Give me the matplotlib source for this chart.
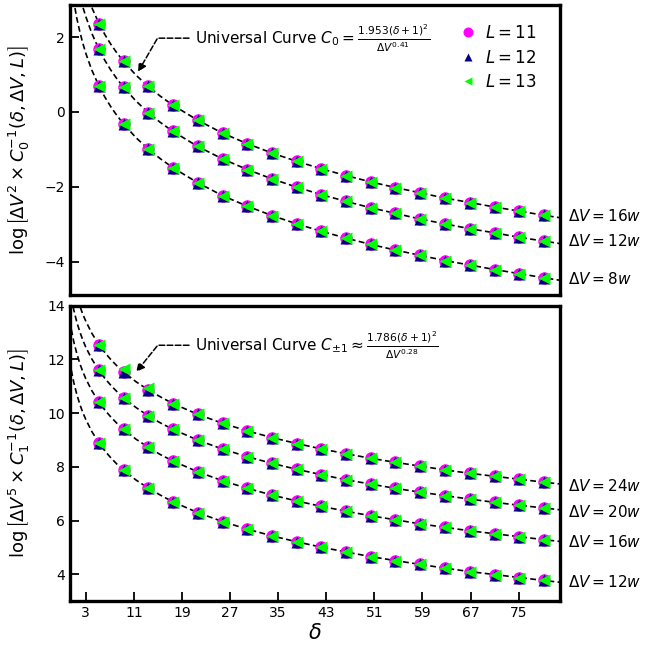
import numpy as np
import matplotlib
matplotlib.use("Agg")
import matplotlib.pyplot as plt

plt.rcParams['figure.facecolor'] = 'w'
plt.rcParams['mathtext.fontset'] = 'dejavusans'

# marker positions (delta)
delta = [5.2, 9.3, 13.4, 17.5, 21.6, 25.8, 29.9, 34.0, 38.1, 42.2,
         46.3, 50.4, 54.5, 58.6, 62.7, 66.9, 71.0, 75.1, 79.2]

# top panel, log[dV^2 C0^-1]
top_dv16 = [2.36, 1.35, 0.68, 0.18, -0.22, -0.57, -0.85, -1.10, -1.32, -1.52,
            -1.70, -1.87, -2.02, -2.16, -2.30, -2.42, -2.54, -2.65, -2.76]
top_dv12 = [1.67, 0.66, -0.02, -0.52, -0.92, -1.26, -1.54, -1.79, -2.01, -2.21,
            -2.39, -2.56, -2.71, -2.86, -2.99, -3.12, -3.23, -3.35, -3.45]
top_dv8 = [0.69, -0.32, -0.99, -1.49, -1.89, -2.24, -2.52, -2.77, -2.99, -3.19,
           -3.37, -3.54, -3.69, -3.83, -3.97, -4.09, -4.21, -4.32, -4.43]

# bottom panel, log[dV^5 C1^-1]
bot_dv24 = [12.55, 11.54, 10.87, 10.36, 9.96, 9.62, 9.34, 9.09, 8.87, 8.67,
            8.49, 8.32, 8.17, 8.03, 7.89, 7.76, 7.65, 7.54, 7.43]
bot_dv24_l13 = [12.55, 11.66, 10.93, 10.36, 9.96, 9.62, 9.34, 9.09, 8.87, 8.67,
                8.49, 8.32, 8.17, 8.03, 7.89, 7.76, 7.65, 7.54, 7.43]
bot_dv20 = [11.59, 10.57, 9.90, 9.40, 9.00, 8.66, 8.38, 8.13, 7.91, 7.71,
            7.52, 7.36, 7.20, 7.06, 6.93, 6.80, 6.68, 6.57, 6.47]
bot_dv16 = [10.41, 9.40, 8.73, 8.22, 7.82, 7.48, 7.20, 6.95, 6.73, 6.53,
            6.35, 6.18, 6.03, 5.88, 5.75, 5.62, 5.51, 5.40, 5.29]
bot_dv12 = [8.89, 7.88, 7.21, 6.70, 6.30, 5.96, 5.68, 5.43, 5.21, 5.01,
            4.83, 4.66, 4.51, 4.37, 4.23, 4.10, 3.99, 3.88, 3.77]

# extra points of the dashed universal curves (outside / between markers)
fit_delta = [0.6, 1.0, 1.5, 2.0, 2.5, 3.0, 4.0, 6.2, 7.2, 8.2, 11.3, 15.4, 82.0]
fit_top16 = [5.07, 4.63, 4.18, 3.82, 3.51, 3.24, 2.79, 2.06, 1.80, 1.57, 0.99, 0.42, -2.83]
fit_top12 = [4.38, 3.93, 3.49, 3.12, 2.81, 2.55, 2.10, 1.37, 1.11, 0.88, 0.30, -0.28, -3.52]
fit_top8 = [3.40, 2.96, 2.51, 2.15, 1.84, 1.57, 1.12, 0.39, 0.13, -0.10, -0.68, -1.25, -4.50]
fit_bot24 = [15.26, 14.81, 14.37, 14.00, 13.69, 13.43, 12.98, 12.25, 11.99, 11.76, 11.18, 10.61, 7.36]
fit_bot20 = [14.30, 13.85, 13.40, 13.04, 12.73, 12.46, 12.02, 11.29, 11.03, 10.80, 10.22, 9.64, 6.40]
fit_bot16 = [13.12, 12.67, 12.23, 11.86, 11.55, 11.29, 10.84, 10.11, 9.85, 9.62, 9.04, 8.46, 5.22]
fit_bot12 = [11.60, 11.15, 10.71, 10.34, 10.03, 9.77, 9.32, 8.59, 8.33, 8.10, 7.52, 6.95, 3.70]

top_labels = [r'$\Delta V = 16w$', r'$\Delta V = 12w$', r'$\Delta V = 8w$']
top_label_y = [-2.79, -3.46, -4.45]
bot_labels = [r'$\Delta V = 24w$', r'$\Delta V = 20w$', r'$\Delta V = 16w$', r'$\Delta V = 12w$']
bot_label_y = [7.30, 6.33, 5.21, 3.71]
xticks = [3, 11, 19, 27, 35, 43, 51, 59, 67, 75]


def curve(ax, ym, yf):
    x = np.array(delta + fit_delta)
    y = np.array(ym + yf)
    o = np.argsort(x)
    ax.plot(x[o], y[o], '--', color='k', lw=1.2, dashes=(3.5, 2), zorder=1)


def points(ax, y11, y12, y13, lab=False):
    ax.plot(delta, y11, 'o', color='magenta', ms=9, mec='none', zorder=2,
            label=r'$L = 11$' if lab else None)
    ax.plot(delta, y12, '^', color='navy', ms=8, mec='none', zorder=3,
            label=r'$L = 12$' if lab else None)
    ax.plot(delta, y13, '<', color='lime', ms=8, mec='none', zorder=4,
            label=r'$L = 13$' if lab else None)


def style(ax):
    for s in ax.spines.values():
        s.set_linewidth(2.4)
    ax.tick_params(direction='in', length=6.5, width=1.3, labelsize=10)
    ax.set_xlim(0.34, 81.9)
    ax.yaxis.set_label_coords(-0.078, 0.5)


fig = plt.figure(figsize=(6.46, 6.52), dpi=100)
ax1 = fig.add_axes([0.108, 0.547, 0.759, 0.445])
ax2 = fig.add_axes([0.108, 0.078, 0.759, 0.453])

# top panel
for ym, yf in [(top_dv16, fit_top16), (top_dv12, fit_top12), (top_dv8, fit_top8)]:
    curve(ax1, ym, yf)
points(ax1, top_dv16, top_dv16, top_dv16, lab=True)
points(ax1, top_dv12, top_dv12, top_dv12)
points(ax1, top_dv8, top_dv8, top_dv8)
style(ax1)
ax1.set_ylim(-4.9, 2.85)
ax1.set_yticks([-4, -2, 0, 2])
ax1.set_xticks([])
ax1.set_ylabel(r'$\log\left[\Delta V^2\times C_0^{-1}(\delta,\Delta V,L)\right]$', fontsize=13)
for t, yy in zip(top_labels, top_label_y):
    ax1.text(83.2, yy, t, fontsize=11, va='center', ha='left', clip_on=False)
ax1.annotate(r'Universal Curve $C_0=\frac{1.953(\delta+1)^2}{\Delta V^{0.41}}$',
             xy=(11.7, 1.07), xytext=(21.1, 1.97), fontsize=11, va='center',
             arrowprops=dict(arrowstyle='-|>', color='k', ls='--', lw=1.1,
                             connectionstyle='angle,angleA=0,angleB=60,rad=0',
                             shrinkA=2, shrinkB=0, mutation_scale=12))
leg = ax1.legend(loc='upper right', bbox_to_anchor=(0.982, 0.986), frameon=False,
                 fontsize=12, markerscale=0.8, handlelength=1.0,
                 handletextpad=0.5, labelspacing=0.38)

# bottom panel
for ym, yf in [(bot_dv24, fit_bot24), (bot_dv20, fit_bot20),
               (bot_dv16, fit_bot16), (bot_dv12, fit_bot12)]:
    curve(ax2, ym, yf)
points(ax2, bot_dv24, bot_dv24, bot_dv24_l13)
points(ax2, bot_dv20, bot_dv20, bot_dv20)
points(ax2, bot_dv16, bot_dv16, bot_dv16)
points(ax2, bot_dv12, bot_dv12, bot_dv12)
style(ax2)
ax2.set_ylim(3, 14)
ax2.set_yticks([4, 6, 8, 10, 12, 14])
ax2.set_xticks(xticks)
ax2.set_xlabel(r'$\delta$', fontsize=15, labelpad=2)
ax2.set_ylabel(r'$\log\left[\Delta V^5\times C_1^{-1}(\delta,\Delta V,L)\right]$', fontsize=13)
for t, yy in zip(bot_labels, bot_label_y):
    ax2.text(83.2, yy, t, fontsize=11, va='center', ha='left', clip_on=False)
ax2.annotate(r'Universal Curve $C_{\pm1}\approx\frac{1.786(\delta+1)^2}{\Delta V^{0.28}}$',
             xy=(11.4, 11.54), xytext=(21.1, 12.53), fontsize=11, va='center',
             arrowprops=dict(arrowstyle='-|>', color='k', ls='--', lw=1.1,
                             connectionstyle='angle,angleA=0,angleB=51,rad=0',
                             shrinkA=2, shrinkB=0, mutation_scale=12))

fig.savefig('out.png', dpi=100)
